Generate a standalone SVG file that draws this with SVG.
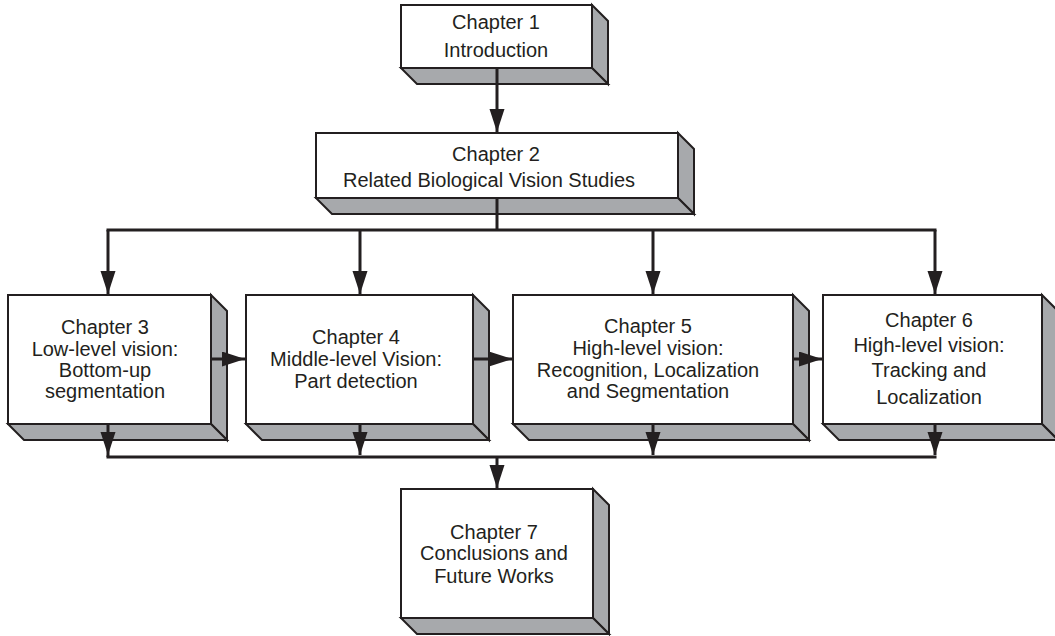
<svg xmlns="http://www.w3.org/2000/svg" width="1055" height="636" viewBox="0 0 1055 636">
  <style>
    .face { fill: #ffffff; stroke: #231f20; stroke-width: 2; }
    .side { fill: #a7a9ac; stroke: #231f20; stroke-width: 2; stroke-linejoin: miter; }
    .lbl { font-family: "Liberation Sans", Arial, sans-serif; font-size: 20px; fill: #231f20; text-anchor: middle; }
    .wire { fill: none; stroke: #231f20; stroke-width: 3; }
  </style>
  <defs>
    <marker id="head" markerUnits="userSpaceOnUse" markerWidth="24" markerHeight="16" refX="23" refY="7.5" orient="auto" viewBox="0 0 24 16">
      <path d="M0,0 L23,7.5 L0,15 z" fill="#231f20"/>
    </marker>
  </defs>

  <rect width="1055" height="636" fill="#ffffff"/>

  <!-- Chapter 1 -->
  <g id="ch1">
    <polygon class="side" points="592,5 608,21 608,84 592,68"/>
    <polygon class="side" points="401,68 592,68 608,84 417,84"/>
    <rect class="face" x="401" y="5" width="191" height="63"/>
    <text class="lbl" x="496" y="29">Chapter 1</text>
    <text class="lbl" x="496" y="57">Introduction</text>
  </g>

  <!-- Chapter 2 -->
  <g id="ch2">
    <polygon class="side" points="678,133 694,149 694,214 678,198"/>
    <polygon class="side" points="316,198 678,198 694,214 332,214"/>
    <rect class="face" x="316" y="133" width="362" height="65"/>
    <text class="lbl" x="496" y="161">Chapter 2</text>
    <text class="lbl" x="489" y="187">Related Biological Vision Studies</text>
  </g>

  <!-- Chapter 3 -->
  <g id="ch3">
    <polygon class="side" points="211,295 227,311 227,440 211,424"/>
    <polygon class="side" points="8,424 211,424 227,440 24,440"/>
    <rect class="face" x="8" y="295" width="203" height="129"/>
    <text class="lbl" x="105" y="334">Chapter 3</text>
    <text class="lbl" x="105" y="356">Low-level vision:</text>
    <text class="lbl" x="105" y="377">Bottom-up</text>
    <text class="lbl" x="105" y="398">segmentation</text>
  </g>

  <!-- Chapter 4 -->
  <g id="ch4">
    <polygon class="side" points="473,295 489,311 489,440 473,424"/>
    <polygon class="side" points="246,424 473,424 489,440 262,440"/>
    <rect class="face" x="246" y="295" width="227" height="129"/>
    <text class="lbl" x="356" y="344">Chapter 4</text>
    <text class="lbl" x="356" y="366">Middle-level Vision:</text>
    <text class="lbl" x="356" y="388">Part detection</text>
  </g>

  <!-- Chapter 5 -->
  <g id="ch5">
    <polygon class="side" points="793,295 809,311 809,440 793,424"/>
    <polygon class="side" points="513,424 793,424 809,440 529,440"/>
    <rect class="face" x="513" y="295" width="280" height="129"/>
    <text class="lbl" x="648" y="333">Chapter 5</text>
    <text class="lbl" x="648" y="355">High-level vision:</text>
    <text class="lbl" x="648" y="377">Recognition, Localization</text>
    <text class="lbl" x="648" y="398">and Segmentation</text>
  </g>

  <!-- Chapter 6 -->
  <g id="ch6">
    <polygon class="side" points="1042,295 1058,311 1058,440 1042,424"/>
    <polygon class="side" points="823,424 1042,424 1058,440 839,440"/>
    <rect class="face" x="823" y="295" width="219" height="129"/>
    <text class="lbl" x="929" y="327">Chapter 6</text>
    <text class="lbl" x="929" y="352">High-level vision:</text>
    <text class="lbl" x="929" y="377">Tracking and</text>
    <text class="lbl" x="929" y="404">Localization</text>
  </g>

  <!-- Chapter 7 -->
  <g id="ch7">
    <polygon class="side" points="593,489 609,505 609,634 593,618"/>
    <polygon class="side" points="401,618 593,618 609,634 417,634"/>
    <rect class="face" x="401" y="489" width="192" height="129"/>
    <text class="lbl" x="494" y="539">Chapter 7</text>
    <text class="lbl" x="494" y="560">Conclusions and</text>
    <text class="lbl" x="494" y="583">Future Works</text>
  </g>

  <!-- connectors -->
  <g id="connectors">
    <!-- ch1 to ch2 -->
    <line class="wire" x1="497" y1="68" x2="497" y2="132" marker-end="url(#head)"/>
    <!-- fan-out from ch2 -->
    <line class="wire" x1="497" y1="198" x2="497" y2="230"/>
    <line class="wire" x1="106.5" y1="230" x2="936.5" y2="230"/>
    <line class="wire" x1="108" y1="230" x2="108" y2="294" marker-end="url(#head)"/>
    <line class="wire" x1="360" y1="230" x2="360" y2="294" marker-end="url(#head)"/>
    <line class="wire" x1="653" y1="230" x2="653" y2="294" marker-end="url(#head)"/>
    <line class="wire" x1="935" y1="230" x2="935" y2="294" marker-end="url(#head)"/>
    <!-- sequence between chapters 3-6 -->
    <line class="wire" x1="211" y1="359" x2="245" y2="359" marker-end="url(#head)"/>
    <line class="wire" x1="473" y1="359" x2="512" y2="359" marker-end="url(#head)"/>
    <line class="wire" x1="793" y1="359" x2="822" y2="359" marker-end="url(#head)"/>
    <!-- merge into ch7 -->
    <line class="wire" x1="108" y1="424" x2="108" y2="455" marker-end="url(#head)"/>
    <line class="wire" x1="360" y1="424" x2="360" y2="455" marker-end="url(#head)"/>
    <line class="wire" x1="653" y1="424" x2="653" y2="455" marker-end="url(#head)"/>
    <line class="wire" x1="935" y1="424" x2="935" y2="455" marker-end="url(#head)"/>
    <line class="wire" x1="106.5" y1="457" x2="936.5" y2="457"/>
    <line class="wire" x1="108" y1="455" x2="108" y2="457"/>
    <line class="wire" x1="497" y1="457" x2="497" y2="488" marker-end="url(#head)"/>
  </g>
</svg>
